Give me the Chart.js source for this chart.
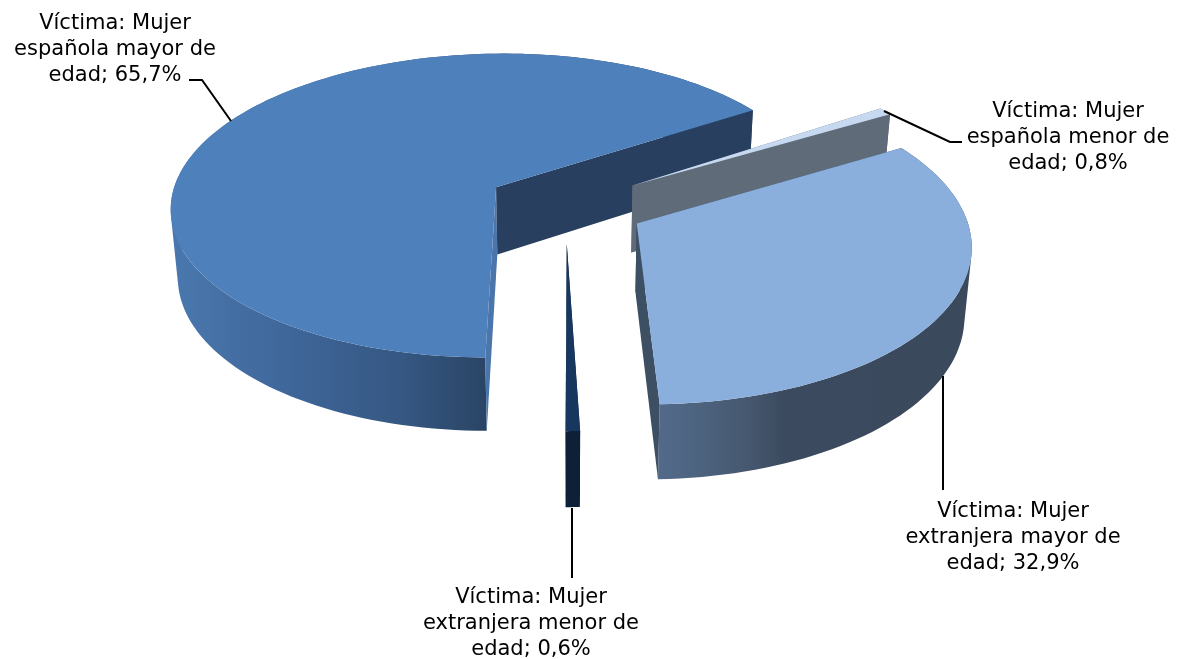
<!DOCTYPE html>
<html>
<head>
<meta charset="utf-8">
<style>
  html, body { margin: 0; padding: 0; background: #fff; }
  #wrap { width: 1184px; height: 659px; }
</style>
<script src="https://cdn.jsdelivr.net/npm/chart.js@4"></script>
</head>
<body>
<div id="wrap"><canvas id="pie"></canvas></div>
<script>
// data
const categories = [
  ['Víctima: Mujer', 'española mayor de', 'edad'],
  ['Víctima: Mujer', 'española menor de', 'edad'],
  ['Víctima: Mujer', 'extranjera mayor de', 'edad'],
  ['Víctima: Mujer', 'extranjera menor de', 'edad']
];
const values = [65.7, 0.8, 32.9, 0.6];

// colours per slice
const topColors = ['#4e80bc', '#c6d9f0', '#8bafdd', '#17375e'];
const edgeColors = ['#283f60', '#5f6b78', '#3d4f63', '#0d2038'];
const startEdgeColors = ['#4a76ac', '#5f6b78', '#3d4f63', '#0d2038'];
const wallStops = [
  [[0, '#4a78ae'], [0.22, '#3e6598'], [0.4, '#355782'], [0.545, '#2a4464'], [1, '#2a4464']],
  [[0, '#5f6b78'], [1, '#5f6b78']],
  [[0, '#52698a'], [0.07, '#4f6784'], [0.28, '#465870'], [0.4, '#3b4a5e'], [1, '#3a495c']],
  [[0, '#0d2038'], [1, '#0d2038']]
];

// label placement: centre x, first baseline y, leader line points
const labelPos = [
  { x: 115, y: 29, leader: [[189, 80], [202, 80], [231, 121]] },
  { x: 1068, y: 117, leader: [[884, 111], [950, 142], [962, 142]] },
  { x: 1013, y: 517, leader: [[943, 376], [943, 490]] },
  { x: 531, y: 603, leader: [[572, 508], [572, 578]] }
];
const lineHeight = 26;

// camera for the tilted pie, in units of the pie radius
const cam = { x0: 565.5, y0: 205, a: 326.5, k: 154, p: 0.122 };
const depth = { sx: 0.982, sy: 1.036, dy: 60.5 };

function projectTop(X, Y) {
  const f = 1 / (1 - cam.p * Y);
  return [cam.x0 + cam.a * X * f, cam.y0 + cam.k * Y * f];
}

function lower(pt) {
  return [cam.x0 + (pt[0] - cam.x0) * depth.sx, pt[1] * depth.sy + depth.dy];
}

function addPoly(ctx, pts) {
  pts.forEach((p, i) => (i ? ctx.lineTo(p[0], p[1]) : ctx.moveTo(p[0], p[1])));
  ctx.closePath();
}

function trace(ctx, pts) {
  ctx.beginPath();
  addPoly(ctx, pts);
}

// signed area, used to give every wall quad the same winding
function area(pts) {
  let sum = 0;
  pts.forEach((p, i) => {
    const q = pts[(i + 1) % pts.length];
    sum += p[0] * q[1] - q[0] * p[1];
  });
  return sum;
}

function drawSlice(ctx, arc, i) {
  const p = arc.getProps(['startAngle', 'endAngle', 'outerRadius']);
  const R = p.outerRadius;
  const mid = (p.startAngle + p.endAngle) / 2;
  const e = arc.options.offset / R;
  const cx = e * Math.cos(mid);
  const cy = e * Math.sin(mid);

  const center = projectTop(cx, cy);
  const rim = [];
  const steps = Math.max(8, Math.ceil((p.endAngle - p.startAngle) / 0.03));
  for (let s = 0; s <= steps; s++) {
    const t = p.startAngle + (p.endAngle - p.startAngle) * s / steps;
    rim.push(projectTop(cx + Math.cos(t), cy + Math.sin(t)));
  }
  const first = rim[0];
  const last = rim[rim.length - 1];

  // outer wall: all quads in one path, so there are no seams between them
  const xs = rim.map(r => r[0]);
  const grad = ctx.createLinearGradient(Math.min(...xs), 0, Math.max(...xs), 0);
  wallStops[i].forEach(st => grad.addColorStop(st[0], st[1]));
  ctx.fillStyle = grad;
  ctx.beginPath();
  for (let s = 0; s < steps; s++) {
    const quad = [rim[s], rim[s + 1], lower(rim[s + 1]), lower(rim[s])];
    addPoly(ctx, area(quad) < 0 ? quad.reverse() : quad);
  }
  ctx.fill();

  // radial walls
  ctx.fillStyle = startEdgeColors[i];
  trace(ctx, [center, first, lower(first), lower(center)]);
  ctx.fill();
  ctx.fillStyle = edgeColors[i];
  trace(ctx, [center, last, lower(last), lower(center)]);
  ctx.fill();

  // top face
  ctx.fillStyle = arc.options.backgroundColor;
  trace(ctx, [center].concat(rim));
  ctx.fill();
}

const pie3d = {
  id: 'pie3d',
  beforeDatasetDraw(chart, args) {
    const ctx = chart.ctx;
    const arcs = chart.getDatasetMeta(args.index).data;
    arcs.forEach((arc, i) => drawSlice(ctx, arc, i));
    return false;
  },
  afterDraw(chart) {
    const ctx = chart.ctx;
    ctx.save();
    ctx.strokeStyle = '#000';
    ctx.lineWidth = 2;
    labelPos.forEach(l => {
      ctx.beginPath();
      l.leader.forEach((p, i) => (i ? ctx.lineTo(p[0], p[1]) : ctx.moveTo(p[0], p[1])));
      ctx.stroke();
    });
    ctx.fillStyle = '#000';
    ctx.font = '21px "DejaVu Sans"';
    ctx.textAlign = 'center';
    ctx.textBaseline = 'alphabetic';
    categories.forEach((lines, i) => {
      const pct = values[i].toFixed(1).replace('.', ',') + '%';
      lines.forEach((line, j) => {
        const text = j === lines.length - 1 ? line + '; ' + pct : line;
        ctx.fillText(text, labelPos[i].x, labelPos[i].y + j * lineHeight);
      });
    });
    ctx.restore();
  }
};

new Chart(document.getElementById('pie'), {
  type: 'pie',
  data: {
    labels: categories.map(c => c.join(' ')),
    datasets: [{
      data: values,
      backgroundColor: topColors,
      borderWidth: 0,
      offset: 72
    }]
  },
  options: {
    responsive: true,
    maintainAspectRatio: false,
    animation: false,
    rotation: 180.2,
    plugins: { legend: { display: false }, tooltip: { enabled: false } }
  },
  plugins: [pie3d]
});
</script>
</body>
</html>
